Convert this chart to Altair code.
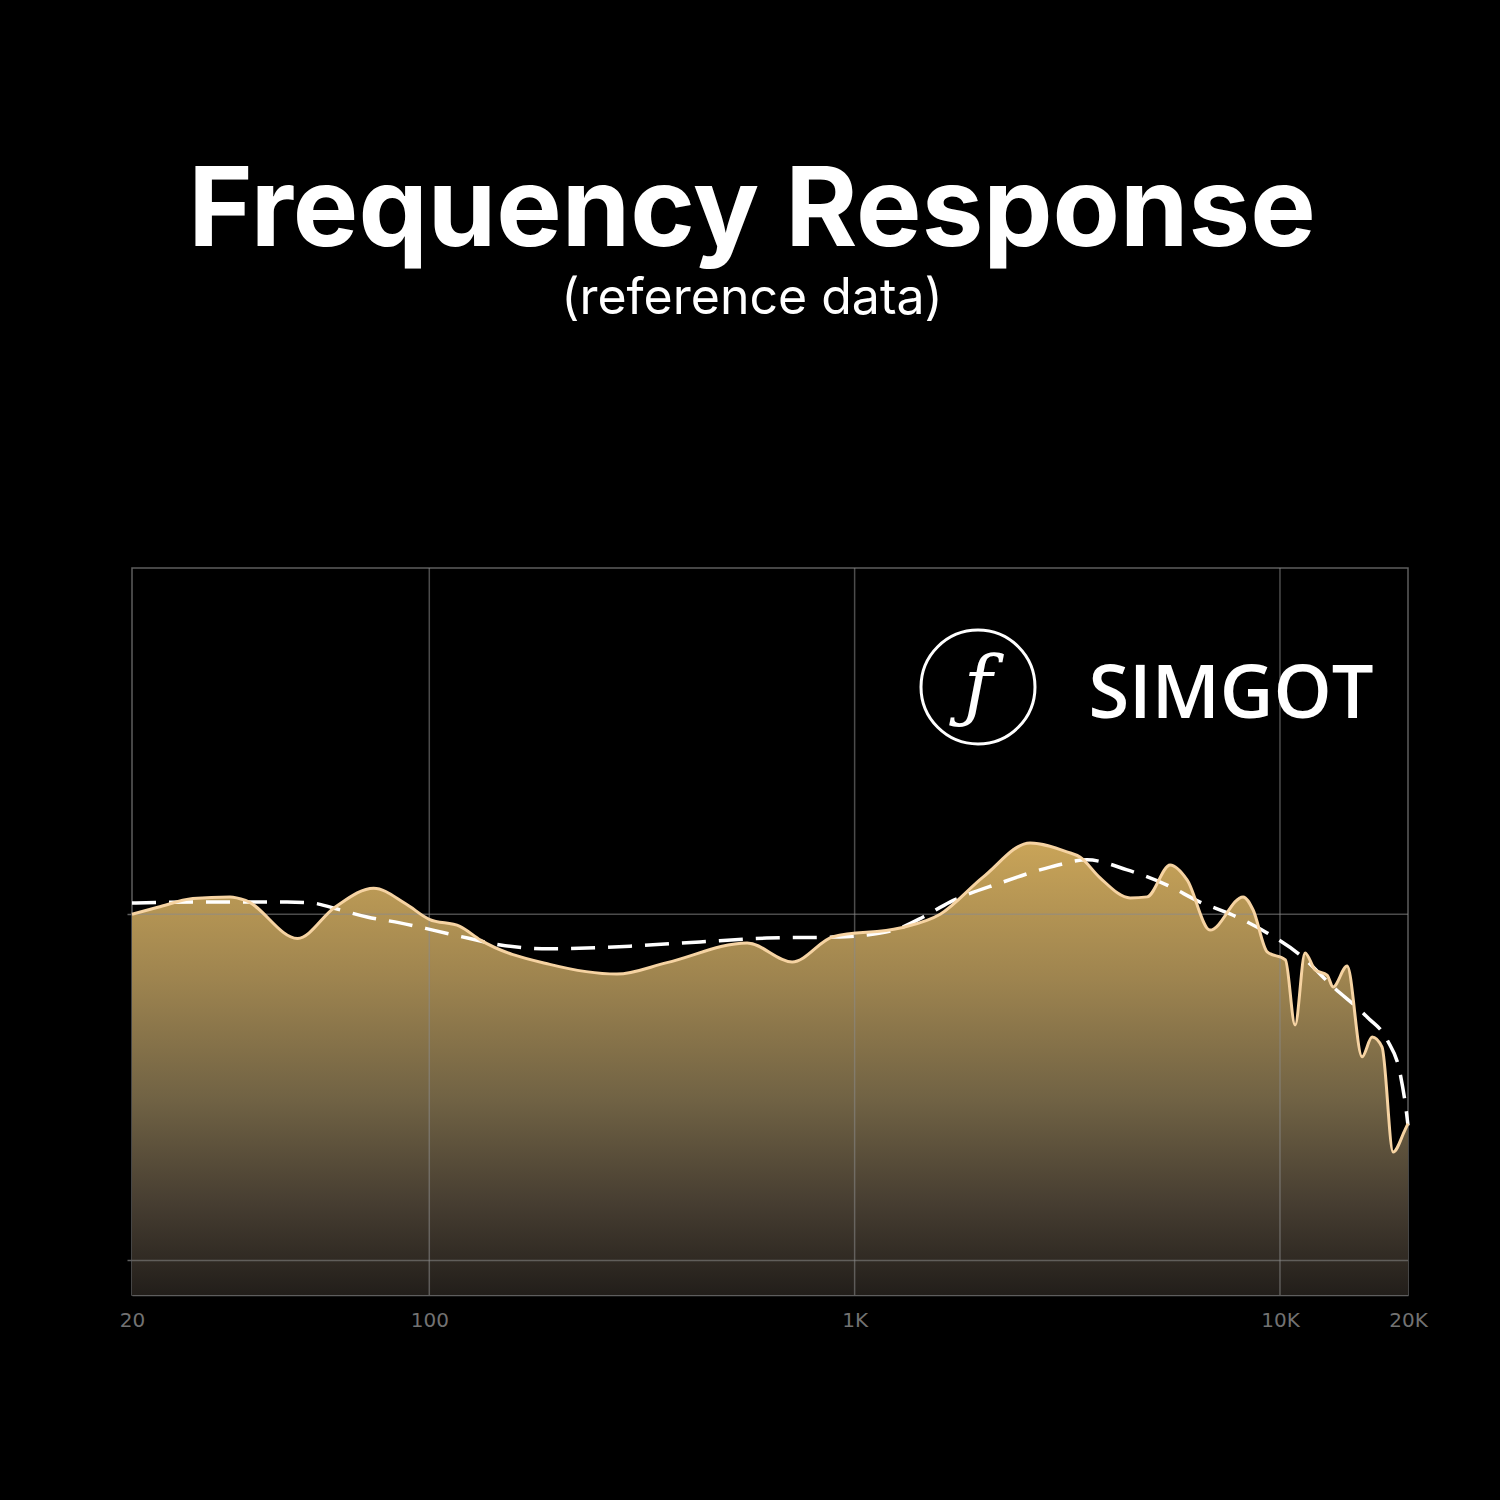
import altair as alt
import pandas as pd

# Page background black (around the 8px page margin)
try:
    import jinja2
    import altair.utils.html as _h
    _orig_tpl = _h.TEMPLATES["standard"]

    class _BlackTemplate(jinja2.Template):
        def render(self, *args, **kwargs):
            html = _orig_tpl.render(*args, **kwargs)
            return html.replace("<head>", "<head>\n<style>html,body{background:#000000;}</style>", 1)

    _h.TEMPLATES["standard"] = _BlackTemplate("")
except Exception:
    pass

# Measured response (Hz, dB)
meas_f = [20, 23, 27.8, 34, 37, 49, 60, 74, 88, 100, 118, 132, 192, 276, 362, 559, 713, 890,
          1279, 1589, 2004, 2585, 3158, 3387, 3776, 4444, 4872, 5518, 6048, 6850, 8192, 8648,
          9330, 10300, 10854, 11456, 12094, 12906, 13332, 14386, 15596, 16466, 17380, 18450,
          19680, 20000]
meas_db = [90.0, 90.2, 90.45, 90.5, 90.4, 89.3, 90.2, 90.75, 90.3, 89.85, 89.65, 89.25, 88.55,
           88.27, 88.6, 89.17, 88.62, 89.35, 89.6, 90.0, 91.07, 92.06, 91.8, 91.65, 91.05,
           90.47, 90.5, 91.42, 90.99, 89.54, 90.5, 90.12, 88.91, 88.68, 86.8, 88.88, 88.39,
           88.24, 87.9, 88.5, 85.88, 86.45, 86.16, 83.13, 83.77, 83.95]

# Target curve (Hz, dB)
tgt_f = [20, 27.8, 46.3, 53.3, 59.4, 71.4, 85.3, 102, 123, 147, 192, 235, 301, 433, 622, 890,
         1070, 1279, 1449, 1675, 2198, 2882, 3520, 4372, 5428, 6488, 7760, 9330, 11152, 13332,
         16026, 17866, 19158, 19840, 20000]
tgt_db = [90.32, 90.35, 90.35, 90.32, 90.18, 89.92, 89.75, 89.54, 89.31, 89.11, 89.0, 89.02,
          89.08, 89.2, 89.31, 89.34, 89.4, 89.6, 89.92, 90.35, 90.9, 91.36, 91.57, 91.28, 90.84,
          90.35, 89.97, 89.46, 88.82, 87.9, 87.03, 86.37, 85.41, 84.26, 83.9]

x_ticks = [20, 100, 1000, 10000, 20000]
x_grid = [100, 1000, 10000]
y_grid = [80, 90]
y_domain = [79, 100]

meas = pd.DataFrame({"f": meas_f, "db": meas_db})
tgt = pd.DataFrame({"f": tgt_f, "db": tgt_db})

GRID = "#5e5e5e"

xscale = alt.Scale(type="log", domain=[20, 20000], nice=False)
yscale = alt.Scale(domain=y_domain, zero=False, nice=False)

label_expr = ("datum.value >= 1000 ? format(datum.value/1000, 'd') + 'K' : format(datum.value, 'd')")

x_enc = alt.X("f:Q", scale=xscale,
              axis=alt.Axis(values=x_ticks, labelExpr=label_expr, grid=False, ticks=False,
                            domain=True, domainColor=GRID, domainWidth=1.5, labelFlush=False,
                            labelColor="#727272", labelFontSize=20, labelFont="DejaVu Sans",
                            labelPadding=15, title=None))
y_enc = alt.Y("db:Q", scale=yscale,
              axis=alt.Axis(values=[80, 90], labels=False, grid=False, ticks=True,
                            tickSize=5, tickColor=GRID, tickWidth=1.5, domain=False, title=None))

gradient = alt.Gradient(
    gradient="linear",
    stops=[alt.GradientStop(color="#c9a458", offset=0),
           alt.GradientStop(color="#9e844f", offset=0.3),
           alt.GradientStop(color="#706244", offset=0.57),
           alt.GradientStop(color="#463d31", offset=0.8),
           alt.GradientStop(color="#221e1a", offset=1)],
    x1=1, x2=1, y1=0, y2=1)

area = alt.Chart(meas).mark_area(color=gradient, interpolate="monotone").encode(
    x=x_enc, y=y_enc, y2=alt.datum(y_domain[0]))

vrules = alt.Chart(pd.DataFrame({"f": x_grid})).mark_rule(
    color="#8a8a8a", opacity=0.55, strokeWidth=1.5).encode(x=alt.X("f:Q", scale=xscale))
hrules = alt.Chart(pd.DataFrame({"db": y_grid})).mark_rule(
    color="#8a8a8a", opacity=0.55, strokeWidth=1.5).encode(y=alt.Y("db:Q", scale=yscale))

target = alt.Chart(tgt).mark_line(color="white", strokeWidth=3.5, strokeDash=[24, 13],
                                  interpolate="monotone").encode(
    x=alt.X("f:Q", scale=xscale), y=alt.Y("db:Q", scale=yscale))

line = alt.Chart(meas).mark_line(color="#f6d3a2", strokeWidth=3, interpolate="monotone").encode(
    x=alt.X("f:Q", scale=xscale), y=alt.Y("db:Q", scale=yscale))

logo_df = pd.DataFrame({"brand": ["SIMGOT"], "mark": ["ƒ"]})
ring = alt.Chart(logo_df).mark_point(shape="circle", filled=False, color="white",
                                     strokeWidth=3, size=12996, opacity=1).encode(
    x=alt.value(846), y=alt.value(119))
glyph = alt.Chart(logo_df).mark_text(color="white", font="DejaVu Serif", fontSize=78,
                                     fontStyle="italic", align="center",
                                     baseline="middle").encode(
    x=alt.value(846), y=alt.value(121), text="mark:N")
brand = alt.Chart(logo_df).mark_text(color="white", font="Open Sans", fontSize=74,
                                     fontWeight=600, align="center",
                                     baseline="alphabetic").encode(
    x=alt.value(1099), y=alt.value(150), text="brand:N")

chart = alt.layer(area, vrules, hrules, target, line, ring, glyph, brand).properties(
    width=1276, height=727,
    autosize=alt.AutoSizeParams(type="none"),
    padding={"left": 124, "top": 560, "right": 84, "bottom": 197},
    background="#000000",
    title=alt.TitleParams(text="Frequency Response", subtitle="(reference data)",
                          font="Inter", fontSize=110, fontWeight=700, color="white",
                          subtitleFont="Inter", subtitleFontSize=50, subtitleFontWeight=400,
                          subtitleColor="white", subtitlePadding=5,
                          anchor="middle", dx=-18, offset=242),
).configure_view(stroke=GRID, strokeWidth=1.5)

chart.save("out.html", embed_options={"renderer": "svg", "actions": False})
